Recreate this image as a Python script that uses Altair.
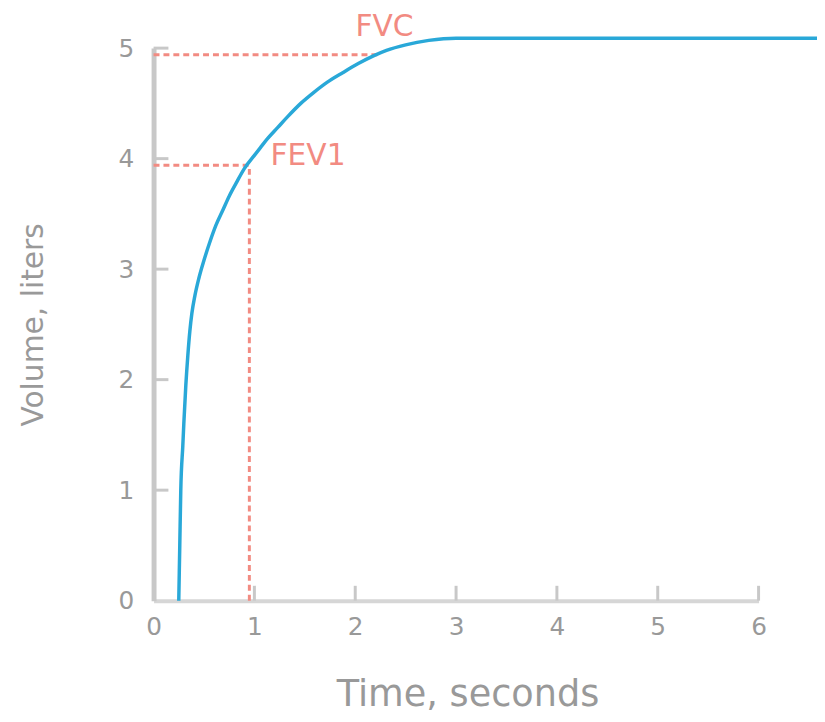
import altair as alt
import pandas as pd

# Curve (time in seconds, volume in liters)
curve_t = [0.25, 0.26, 0.27, 0.29, 0.30, 0.32, 0.34, 0.36, 0.38, 0.41, 0.45, 0.50, 0.56, 0.62, 0.69,
           0.75, 0.82, 0.90, 1.00, 1.06, 1.13, 1.23, 1.33, 1.46, 1.59, 1.72, 1.88, 2.03,
           2.18, 2.31, 2.50, 2.73, 3.00, 4.00, 5.00, 6.00, 6.70]
curve_v = [0.00, 0.50, 1.00, 1.40, 1.60, 1.95, 2.22, 2.44, 2.60, 2.76, 2.92, 3.08, 3.25, 3.40, 3.54,
           3.66, 3.78, 3.91, 4.03, 4.10, 4.18, 4.28, 4.38, 4.50, 4.60, 4.69, 4.78, 4.86,
           4.93, 4.98, 5.03, 5.07, 5.09, 5.09, 5.09, 5.09, 5.09]

# Dashed reference lines
fvc_t = [0.0, 2.24]
fvc_v = [4.94, 4.94]
fev1_h_t = [0.0, 0.95]
fev1_h_v = [3.94, 3.94]
fev1_v_t = [0.95, 0.95]
fev1_v_v = [0.0, 3.94]

# Annotations
label_text = ["FVC", "FEV1"]
label_t = [2.29, 1.16]
label_v = [5.19, 4.02]
label_align = ["center", "left"]

x_ticks = [0, 1, 2, 3, 4, 5, 6]
y_ticks = [0, 1, 2, 3, 4, 5]

W, H = 611, 558
BLUE = "#29a8d8"
RED = "#f28b82"
GRAY = "#c8c8c8"
TXT = "#999999"

xs = alt.Scale(domain=[0, 6], nice=False)
ys = alt.Scale(domain=[0, 5], nice=False)

curve_df = pd.DataFrame({"t": curve_t, "v": curve_v})

def seg(ts, vs, name):
    return pd.DataFrame({"t": ts, "v": vs, "g": name})

dash_df = pd.concat([seg(fvc_t, fvc_v, "fvc"), seg(fev1_h_t, fev1_h_v, "fev1h"),
                     seg(fev1_v_t, fev1_v_v, "fev1v")])

base_axis_x = alt.Axis(values=x_ticks, format="d", ticks=False, domainColor="#d6d6d6", domainWidth=4,
                       labelColor=TXT, labelFontSize=25, labelFont="DejaVu Sans", labelPadding=14,
                       labelFlush=False, grid=False, title="Time, seconds", titleFont="DejaVu Sans",
                       titleFontSize=37, titleFontWeight="normal", titleColor=TXT, titlePadding=38,
                       titleX=317)
base_axis_y = alt.Axis(values=y_ticks, format="d", ticks=False, domainColor=GRAY, domainWidth=5,
                       labelColor=TXT, labelFontSize=25, labelFont="DejaVu Sans", labelPadding=20,
                       labelFlush=False, grid=False, title="Volume, liters", titleFont="DejaVu Sans",
                       titleFontSize=30, titleFontWeight="normal", titleColor=TXT, titlePadding=70)

dashes = alt.Chart(dash_df).mark_line(color=RED, strokeWidth=3, strokeDash=[6, 4]).encode(
    x=alt.X("t:Q", scale=xs, axis=base_axis_x),
    y=alt.Y("v:Q", scale=ys, axis=base_axis_y),
    detail="g:N",
)

curve = alt.Chart(curve_df).mark_line(color=BLUE, strokeWidth=3.5, clip=False, interpolate="monotone").encode(
    x=alt.X("t:Q", scale=xs),
    y=alt.Y("v:Q", scale=ys),
)

xt_df = pd.DataFrame({"t": x_ticks[1:]})
xtick_rules = alt.Chart(xt_df).mark_rule(color=GRAY, strokeWidth=3).encode(
    x=alt.X("t:Q", scale=xs),
    y=alt.value(H - 15),
    y2=alt.value(H),
)
yt_df = pd.DataFrame({"v": y_ticks[1:]})
ytick_rules = alt.Chart(yt_df).mark_rule(color=GRAY, strokeWidth=3).encode(
    y=alt.Y("v:Q", scale=ys),
    x=alt.value(0),
    x2=alt.value(15),
)

lab_df = pd.DataFrame({"text": label_text, "t": label_t, "v": label_v, "a": label_align})
labels_c = alt.Chart(lab_df[lab_df.a == "center"]).mark_text(
    color=RED, fontSize=30, font="DejaVu Sans", align="center", baseline="middle", clip=False
).encode(x=alt.X("t:Q", scale=xs), y=alt.Y("v:Q", scale=ys), text="text:N")
labels_l = alt.Chart(lab_df[lab_df.a == "left"]).mark_text(
    color=RED, fontSize=30, font="DejaVu Sans", align="left", baseline="middle", clip=False
).encode(x=alt.X("t:Q", scale=xs), y=alt.Y("v:Q", scale=ys), text="text:N")

chart = alt.layer(xtick_rules, ytick_rules, dashes, curve, labels_c, labels_l).properties(
    width=W, height=H,
    autosize=alt.AutoSizeParams(type="none"),
    padding={"left": 147, "top": 37, "right": 59, "bottom": 117},
).configure_view(stroke=None)

chart.save("out.html", embed_options={"renderer": "svg", "actions": False})
